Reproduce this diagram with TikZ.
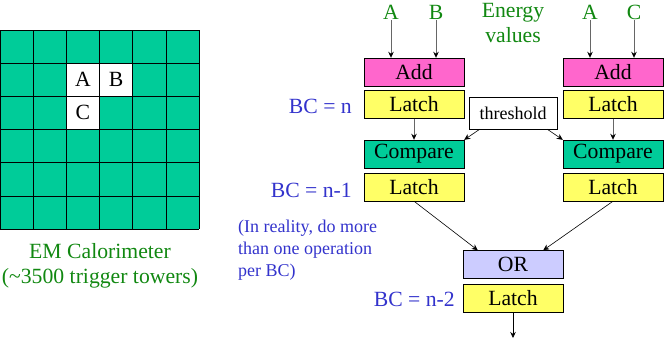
\documentclass[tikz,border=0pt]{standalone}
\usepackage{fontspec}
\setmainfont{Liberation Serif}
\usetikzlibrary{arrows.meta}

\definecolor{torre}{HTML}{00CC99}
\definecolor{sumar}{HTML}{FF66CC}
\definecolor{latch}{HTML}{FFFF66}
\definecolor{orfill}{HTML}{CCCCFF}
\definecolor{verdetxt}{HTML}{118811}
\definecolor{azultxt}{HTML}{3333CC}

\newcommand{\grande}{\fontsize{21.7}{25}\selectfont}
\newcommand{\chica}{\fontsize{18}{22}\selectfont}

\begin{document}
\begin{tikzpicture}[x=1pt, y=-1pt,
    caja/.style={draw, minimum width=100pt, minimum height=28pt, inner sep=0pt, font=\grande},
    flecha/.style={-{Stealth[length=6pt, width=5.5pt, black]}, black!60, line width=0.9pt},
    flechan/.style={-{Stealth[length=6pt, width=5.5pt]}, black, line width=0.6pt},
    entrada/.style={text=verdetxt, font=\grande, inner sep=1pt},
    ciclo/.style={text=azultxt, font=\grande, anchor=east, inner sep=0pt}]
    \useasboundingbox (0,0) rectangle (664,341);

    % Calorimetro
    \fill[torre] (0,30) rectangle (199,229);
    \fill[white] (66.33,63.17) rectangle (132.67,96.33);
    \fill[white] (66.33,96.33) rectangle (99.5,129.5);
    \foreach \i in {0,...,6} {
        \draw (\i*33.17,30) -- (\i*33.17,229);
        \draw (0,30+\i*33.17) -- (199,30+\i*33.17);
    }
    \node[font=\grande] (celA) at (82.9,79.8) {A};
    \node[font=\grande] (celB) at (116.1,79.8) {B};
    \node[font=\grande] (celC) at (82.9,112.9) {C};
    \node[text=verdetxt, font=\grande, align=center] (calo) at (100,266) {EM Calorimeter\\(\textasciitilde3500 trigger towers)};

    % Entradas
    \node[entrada] (inA1) at (391,12) {A};
    \node[entrada] (inB) at (436,12) {B};
    \node[entrada] (inA2) at (590,12) {A};
    \node[entrada] (inC) at (634,12) {C};
    \node[entrada, align=center] (energia) at (513,23) {Energy\\values};

    % Cajas
    \node[caja, fill=sumar] (addL) at (414,72) {Add};
    \node[caja, fill=latch] (latL1) at (414,104.5) {Latch};
    \node[caja, fill=torre] (cmpL) at (414,154) {Compare};
    \node[caja, fill=latch] (latL2) at (414,187) {Latch};
    \node[caja, fill=sumar] (addR) at (613,72) {Add};
    \node[caja, fill=latch] (latR1) at (613,104.5) {Latch};
    \node[caja, fill=torre] (cmpR) at (613,154) {Compare};
    \node[caja, fill=latch] (latR2) at (613,187) {Latch};
    \node[draw, fill=white, minimum width=88pt, minimum height=32pt, inner sep=0pt, font=\fontsize{18}{20}\selectfont] (thr) at (513,113) {threshold};
    \node[caja, fill=orfill] (or) at (513,264.5) {OR};
    \node[caja, fill=latch] (latO) at (513,298) {Latch};
    \coordinate (salida) at (513,338);

    % Flechas
    \draw[flecha] (inA1) -- (inA1 |- addL.north);
    \draw[flecha] (inB) -- (inB |- addL.north);
    \draw[flecha] (inA2) -- (inA2 |- addR.north);
    \draw[flecha] (inC) -- (inC |- addR.north);
    \draw[flecha] (latL1) -- (cmpL);
    \draw[flecha] (latR1) -- (cmpR);
    \draw[flechan] ([xshift=11pt]thr.south west) -- (cmpL.north east);
    \draw[flechan] ([xshift=-10pt]thr.south east) -- (cmpR.north west);
    \draw[flechan] (latL2.south) -- ([xshift=15pt]or.north west);
    \draw[flechan] (latR2.south) -- ([xshift=-20pt]or.north east);
    \draw[flechan] (latO) -- (salida);

    % Ciclos de reloj
    \node[ciclo] (bc0) at (352,106) {BC = n};
    \node[ciclo] (bc1) at (352,190) {BC = n-1};
    \node[ciclo] (bc2) at (455,299) {BC = n-2};
    \node[text=azultxt, font=\chica, align=left, anchor=west, inner sep=0pt] (nota) at (238,250) {(In reality, do more\\than one operation\\per BC)};
\end{tikzpicture}
\end{document}
